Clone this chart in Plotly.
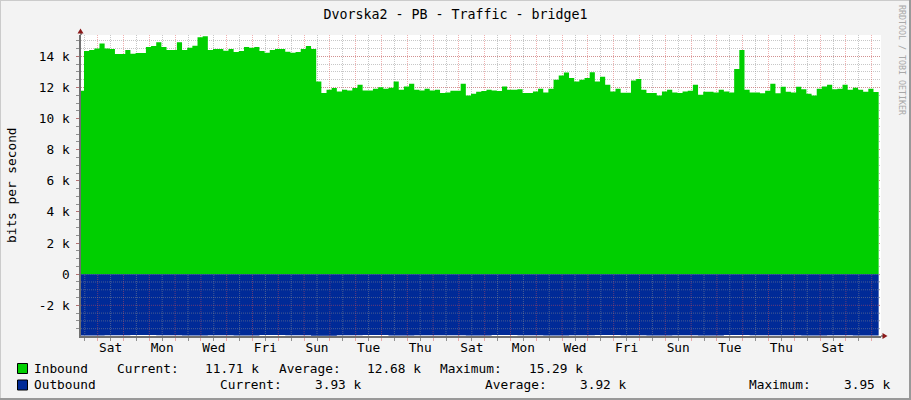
import numpy as np
import plotly.graph_objects as go

# inbound traffic in k bits/s, one value per 4.8 h step (first one is cut by the left edge)
inbound_k = [
    11.79,
    14.34, 14.40, 14.50, 14.83, 14.50, 14.47, 14.15, 14.15, 14.40, 14.17,
    14.21, 14.21, 14.60, 14.66, 14.91, 14.60, 14.40, 14.40, 14.91, 14.40,
    14.55, 14.68, 15.23, 15.29, 14.40, 14.47, 14.47, 14.36, 14.47, 14.28,
    14.34, 14.60, 14.55, 14.60, 14.34, 14.23, 14.40, 14.47, 14.47, 14.30,
    14.23, 14.28, 14.47, 14.66, 14.47, 12.38, 11.64, 11.85, 11.96, 11.74,
    11.85, 11.81, 11.96, 12.17, 11.81, 11.81, 11.91, 12.02, 11.91, 11.98, 12.38,
    11.85, 12.06, 12.23, 11.85, 11.81, 11.91, 11.81, 11.85, 11.64, 11.68,
    11.79, 11.79, 12.23, 11.49, 11.60, 11.72, 11.77, 11.85, 11.81, 11.77,
    12.06, 11.85, 11.85, 11.89, 11.64, 11.64, 11.74, 11.91, 11.68, 11.91, 12.49,
    12.77, 12.96, 12.60, 12.38, 12.49, 12.60, 12.98, 12.38, 12.68, 12.17,
    11.74, 11.91, 11.66, 11.66, 12.45, 12.55, 11.85, 11.64, 11.64, 11.49,
    11.74, 11.85, 11.68, 11.64, 11.74, 11.79, 12.17, 11.53, 11.72, 11.72, 11.68,
    11.85, 11.74, 11.68, 13.19, 14.40, 11.85, 11.68, 11.68, 11.62, 11.79,
    12.23, 11.62, 12.04, 11.72, 11.68, 12.04, 11.89, 11.60, 11.49, 11.91,
    12.06, 12.17, 11.89, 11.91, 12.17, 11.85, 11.98, 11.85, 11.72, 11.91, 11.71,
]

# outbound traffic in k bits/s, one value per day (drawn below zero)
outbound_k = [
    3.93, 3.92, 3.91, 3.92, 3.94, 3.92, 3.93, 3.91, 3.92, 3.95, 3.92,
    3.91, 3.93, 3.92, 3.92, 3.94, 3.91, 3.92, 3.93, 3.92, 3.91, 3.92,
    3.94, 3.92, 3.93, 3.91, 3.92, 3.92, 3.93, 3.92, 3.93,
]

day_labels = ["Sat", "Mon", "Wed", "Fri", "Sun", "Tue", "Thu", "Sat",
              "Mon", "Wed", "Fri", "Sun", "Tue", "Thu", "Sat"]
label_days = [0.5, 2.5, 4.5, 6.5, 8.5, 10.5, 12.5, 14.5,
              16.5, 18.5, 20.5, 22.5, 24.5, 26.5, 28.5]

ytick_vals = [-2, 0, 2, 4, 6, 8, 10, 12, 14]
ytick_text = ["-2 k", "0", "2 k", "4 k", "6 k", "8 k", "10 k", "12 k", "14 k"]

inbound_stats = ["11.71 k", "12.68 k", "15.29 k"]
outbound_stats = ["3.93 k", "3.92 k", "3.95 k"]

# x is in days, 0 = Saturday 00:00
start_day = -0.731
in_step = 0.2
out_step = 1.0
x_range = [-0.647, 30.36]
y_range = [-3.97, 15.37]

x_in = start_day + in_step * np.arange(len(inbound_k) + 1)
y_in = inbound_k + [inbound_k[-1]]
x_out = start_day + out_step * np.arange(len(outbound_k) + 1)
y_out = [-v for v in outbound_k] + [-outbound_k[-1]]

FONT = "DejaVu Sans Mono"
W, H = 911, 400
L, R, T, B = 81, 30, 35, 64
PW, PH = W - L - R, H - T - B

GRID = "rgba(143,143,143,0.5)"
MGRID = "rgba(222,79,79,0.45)"


def px_x(px):
    return (px - L) / PW


def px_y(py):
    return (H - B - py) / PH


fig = go.Figure()

fig.add_trace(go.Scatter(x=x_in, y=y_in, mode="lines", line=dict(width=0, shape="hv"),
                         fill="tozeroy", fillcolor="#00CF00", hoverinfo="skip",
                         showlegend=False))
fig.add_trace(go.Scatter(x=x_out, y=y_out, mode="lines", line=dict(width=0, shape="hv"),
                         fill="tozeroy", fillcolor="#002A97", hoverinfo="skip",
                         showlegend=False, xaxis="x2"))

shapes = []
# grid shows through the outbound area
for d in np.arange(-0.5, x_range[1], 0.5):
    col = MGRID if d == int(d) else GRID
    shapes.append(dict(type="line", xref="x", yref="y", x0=d, x1=d, y0=y_range[0], y1=0,
                       line=dict(color=col, width=1, dash="1px,1px"), layer="above"))
for v in np.arange(-3.5, 0, 0.5):
    col = MGRID if v == -2 else GRID
    shapes.append(dict(type="line", xref="x", yref="y", x0=x_range[0], x1=x_range[1],
                       y0=v, y1=v, line=dict(color=col, width=1, dash="1px,1px"),
                       layer="above"))

# axis extensions and arrows
shapes.append(dict(type="line", xref="paper", yref="paper", x0=1, x1=px_x(884), y0=0, y1=0,
                   line=dict(color="#707070", width=1.5)))
shapes.append(dict(type="line", xref="paper", yref="paper", x0=0, x1=0, y0=1, y1=px_y(32),
                   line=dict(color="#707070", width=1.5)))
shapes.append(dict(type="path", xref="paper", yref="paper",
                   path="M {} {} L {} {} L {} {} Z".format(px_x(887.5), px_y(336),
                                                           px_x(882.5), px_y(333),
                                                           px_x(882.5), px_y(339)),
                   fillcolor="#8B1A1A", line=dict(width=0)))
shapes.append(dict(type="path", xref="paper", yref="paper",
                   path="M {} {} L {} {} L {} {} Z".format(px_x(80.5), px_y(28.5),
                                                           px_x(77.5), px_y(33.5),
                                                           px_x(83.5), px_y(33.5)),
                   fillcolor="#8B1A1A", line=dict(width=0)))

# legend swatches
for py0, col in [(363.5, "#00CF00"), (380, "#002A97")]:
    shapes.append(dict(type="rect", xref="paper", yref="paper",
                       x0=px_x(17.5), x1=px_x(27.5), y0=px_y(py0), y1=px_y(py0 + 10),
                       fillcolor=col, line=dict(color="black", width=1)))

# frame around the image
shapes.append(dict(type="line", xref="paper", yref="paper", x0=px_x(0), x1=px_x(911),
                   y0=px_y(0.5), y1=px_y(0.5), line=dict(color="#CBCBCB", width=1)))
shapes.append(dict(type="line", xref="paper", yref="paper", x0=px_x(0.5), x1=px_x(0.5),
                   y0=px_y(0), y1=px_y(400), line=dict(color="#CBCBCB", width=1)))
shapes.append(dict(type="line", xref="paper", yref="paper", x0=px_x(0), x1=px_x(911),
                   y0=px_y(399), y1=px_y(399), line=dict(color="#999999", width=2)))
shapes.append(dict(type="line", xref="paper", yref="paper", x0=px_x(910), x1=px_x(910),
                   y0=px_y(0), y1=px_y(400), line=dict(color="#999999", width=2)))

txt = dict(family=FONT, size=12.8, color="black")
annotations = []


def note(px, py, text, anchor="left", font=txt, angle=0):
    annotations.append(dict(x=px_x(px), y=px_y(py), xref="paper", yref="paper", text=text,
                            showarrow=False, xanchor=anchor, yanchor="middle",
                            font=font, textangle=angle, borderpad=0))


# legend rows
note(33, 368, "Inbound")
note(116, 368, "Current:")
note(260, 368, inbound_stats[0], "right")
note(278, 368, "Average:")
note(422, 368, inbound_stats[1], "right")
note(439, 368, "Maximum:")
note(584, 368, inbound_stats[2], "right")

note(33, 384.5, "Outbound")
note(219, 384.5, "Current:")
note(363, 384.5, outbound_stats[0], "right")
note(484, 384.5, "Average:")
note(628, 384.5, outbound_stats[1], "right")
note(748, 384.5, "Maximum:")
note(892, 384.5, outbound_stats[2], "right")

# y axis title and watermark
note(11, 185, "bits per second", "center", angle=-90)
note(902, 60, "RRDTOOL / TOBI OETIKER", "center",
     font=dict(family=FONT, size=8.3, color="#A8A8A8"), angle=90)

fig.update_layout(
    width=W, height=H,
    margin=dict(l=L, r=R, t=T, b=B),
    paper_bgcolor="#F3F3F3",
    plot_bgcolor="white",
    title=dict(text="Dvorska2 - PB - Traffic - bridge1", x=0.5, xref="container",
               y=1 - 14 / H, yanchor="middle", xanchor="center",
               font=dict(family=FONT, size=13.3, color="black")),
    xaxis=dict(range=x_range, tick0=0, dtick=1, showgrid=True, gridcolor=MGRID,
               griddash="1px,1px", gridwidth=1, showticklabels=False,
               ticks="outside", ticklen=3, tickcolor=MGRID,
               showline=True, linecolor="#707070", linewidth=1.5, zeroline=False,
               minor=dict(dtick=0.5, tick0=0, showgrid=True, gridcolor=GRID,
                          griddash="1px,1px", ticks="outside", ticklen=3,
                          tickcolor="#909090")),
    xaxis2=dict(range=x_range, overlaying="x", anchor="y", side="bottom",
                tickmode="array", tickvals=label_days, ticktext=day_labels,
                showgrid=False, zeroline=False, showline=False, ticks="",
                tickfont=txt, ticklabelstandoff=2),
    yaxis=dict(range=y_range, tickmode="array", tickvals=ytick_vals, ticktext=ytick_text,
               showgrid=True, gridcolor=MGRID, griddash="1px,1px", gridwidth=1,
               ticks="outside", ticklen=3, tickcolor=MGRID, tickfont=txt,
               showline=True, linecolor="#707070", linewidth=1.5, zeroline=False,
               ticklabelstandoff=4,
               minor=dict(dtick=0.5, tick0=0, showgrid=True, gridcolor=GRID,
                          griddash="1px,1px", ticks="outside", ticklen=3,
                          tickcolor="#909090")),
    shapes=shapes,
    annotations=annotations,
    showlegend=False,
)

# the page keeps the browser's default body margin otherwise
fig.write_html("out.html", config={"displayModeBar": False},
               post_script="document.body.style.margin = '0';")
